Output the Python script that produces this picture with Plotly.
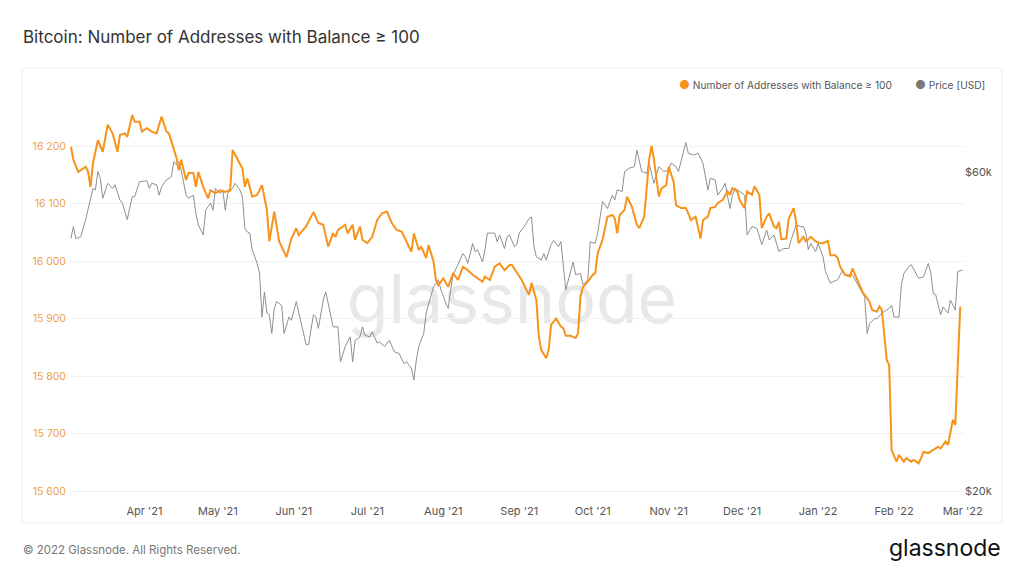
import plotly.graph_objects as go
import pandas as pd

# ---- data ----
START = pd.Timestamp("2021-03-01")

# Number of addresses with balance >= 100 BTC; day = days since START
addr_days = [
    1, 2, 4, 5, 7, 8, 9, 10, 12, 14, 16, 18, 20, 21, 23, 24, 26, 27, 29, 30,
    32, 34, 36, 38, 40, 41, 43, 44, 45, 46, 48, 49, 51, 52, 53, 55, 57, 58, 60, 62,
    64, 66, 67, 69, 71, 72, 73, 75, 77, 79, 81, 82, 84, 86, 87, 89, 91, 93, 94, 97,
    100, 102, 104, 106, 108, 109, 110, 113, 114, 116, 117, 119, 120, 122, 124, 126, 128, 130, 132, 134,
    136, 138, 140, 141, 143, 144, 146, 147, 149, 150, 151, 153, 155, 157, 158, 159, 161, 163, 165, 167,
    169, 170, 172, 174, 176, 178, 180, 181, 183, 185, 188, 189, 191, 192, 193, 195, 196, 197, 199, 201,
    202, 203, 205, 207, 208, 209, 210, 212, 214, 215, 216, 218, 220, 222, 223, 224, 225, 227, 228, 230,
    232, 233, 235, 236, 237, 238, 239, 241, 242, 244, 245, 247, 248, 250, 252, 253, 254, 256, 257, 258,
    259, 261, 262, 264, 265, 267, 269, 270, 271, 273, 274, 276, 277, 279, 280, 282, 283, 284, 285, 286,
    288, 289, 290, 291, 293, 294, 296, 297, 298, 300, 301, 303, 305, 307, 308, 310, 311, 313, 314, 315,
    317, 319, 320, 322, 323, 324, 326, 327, 328, 330, 331, 332, 334, 335, 336, 338, 339, 341, 342, 344,
    345, 347, 348, 349, 351, 353, 355, 356, 358, 359, 360, 361, 362, 364,
]
addr_values = [
    16199, 16176, 16155, 16158, 16164, 16155, 16129, 16170, 16210, 16190, 16237, 16222, 16190, 16219, 16222, 16216, 16254, 16242, 16242, 16225,
    16231, 16225, 16222, 16251, 16225, 16222, 16193, 16181, 16158, 16176, 16141, 16153, 16153, 16129, 16155, 16129, 16109, 16123, 16118, 16123,
    16120, 16123, 16193, 16176, 16161, 16129, 16144, 16112, 16115, 16132, 16089, 16034, 16086, 16034, 16025, 16007, 16039, 16057, 16045, 16060,
    16085, 16066, 16063, 16025, 16048, 16042, 16054, 16063, 16048, 16063, 16037, 16060, 16037, 16031, 16042, 16071, 16083, 16086, 16066, 16054,
    16051, 16034, 16016, 16048, 16019, 16025, 16005, 16028, 15999, 15967, 15958, 15970, 15955, 15979, 15973, 15967, 15990, 15984, 15976, 15970,
    15964, 15973, 15967, 15990, 15996, 15984, 15993, 15993, 15979, 15967, 15941, 15962, 15932, 15868, 15845, 15831, 15845, 15889, 15900, 15886,
    15883, 15870, 15870, 15866, 15874, 15938, 15955, 15964, 15976, 15979, 16013, 16037, 16077, 16080, 16074, 16048, 16080, 16089, 16112, 16094,
    16063, 16057, 16077, 16135, 16176, 16200, 16176, 16112, 16126, 16132, 16164, 16138, 16097, 16092, 16092, 16083, 16071, 16077, 16057, 16039,
    16071, 16077, 16092, 16094, 16101, 16106, 16121, 16115, 16127, 16121, 16106, 16092, 16121, 16115, 16130, 16115, 16057, 16068, 16077, 16083,
    16060, 16057, 16068, 16038, 16039, 16074, 16092, 16068, 16031, 16042, 16034, 16042, 16034, 16031, 16031, 16035, 16010, 16010, 16005, 15990,
    15976, 15973, 15987, 15967, 15958, 15947, 15935, 15929, 15915, 15912, 15921, 15915, 15828, 15819, 15671, 15651, 15663, 15651, 15657, 15651,
    15654, 15648, 15657, 15668, 15666, 15671, 15677, 15674, 15686, 15680, 15706, 15724, 15715, 15921,
]

# BTC price in USD; day = days since START
price_days = [
    1, 2, 3, 5, 7, 9, 10, 11, 12, 13, 14, 16, 18, 19, 21, 22, 24, 26, 27, 29,
    32, 33, 34, 36, 37, 38, 40, 42, 43, 44, 45, 46, 48, 49, 51, 52, 53, 55, 56, 58,
    59, 60, 62, 63, 64, 65, 67, 68, 70, 71, 72, 73, 74, 75, 77, 78, 79, 80, 81, 82,
    83, 84, 85, 87, 88, 90, 91, 93, 95, 97, 98, 100, 101, 102, 104, 105, 106, 108, 110, 111,
    113, 115, 116, 117, 119, 120, 121, 123, 124, 126, 127, 129, 131, 133, 135, 137, 138, 140, 141, 142,
    143, 145, 146, 148, 149, 151, 152, 154, 155, 156, 157, 159, 160, 161, 162, 163, 165, 166, 167, 169,
    170, 171, 174, 175, 176, 178, 179, 180, 182, 183, 184, 186, 188, 189, 190, 191, 193, 194, 195, 197,
    198, 200, 201, 202, 203, 206, 207, 209, 210, 212, 213, 215, 216, 218, 220, 222, 223, 224, 226, 227,
    229, 231, 232, 234, 236, 237, 239, 241, 243, 245, 246, 248, 249, 252, 253, 255, 257, 259, 261, 262,
    264, 265, 267, 268, 270, 271, 272, 274, 276, 277, 279, 281, 283, 285, 286, 288, 290, 292, 294, 295,
    297, 299, 300, 301, 302, 303, 305, 306, 308, 309, 311, 312, 314, 316, 317, 320, 321, 323, 325, 326,
    327, 329, 330, 332, 333, 335, 336, 337, 339, 340, 341, 343, 344, 346, 347, 349, 351, 352, 353, 354,
    356, 357, 359, 360, 362, 363, 365,
]
price_values = [
    47700, 49700, 47700, 48000, 50900, 55100, 56700, 56400, 60100, 58700, 54800, 57700, 56700, 57400, 54500, 53900, 50900, 55100, 55100, 58000,
    58200, 56700, 57700, 57400, 55400, 57000, 58400, 59000, 62200, 61500, 62200, 60400, 55400, 54800, 55400, 52000, 50000, 48300, 52600, 53900,
    52600, 56700, 55700, 56400, 52600, 55700, 56700, 57700, 56400, 55100, 49400, 48800, 48600, 45900, 43800, 42300, 36400, 39700, 36900, 36700,
    34400, 37500, 38400, 37900, 34400, 36400, 36000, 38400, 35600, 33100, 33100, 36700, 36400, 35000, 38600, 39700, 38200, 35200, 35200, 31200,
    32900, 34000, 31200, 33600, 34000, 35200, 34200, 34000, 34600, 33300, 33400, 32900, 33600, 32300, 32100, 31000, 31200, 30500, 29300, 31400,
    32900, 34400, 36900, 39300, 40400, 41400, 40000, 38200, 37500, 40000, 42100, 43600, 44600, 45300, 44800, 43800, 46900, 45600, 45900, 44000,
    45900, 48600, 48600, 47200, 48300, 46100, 48000, 48300, 46400, 46700, 48600, 49700, 51100, 51400, 46400, 44800, 44300, 45300, 44300, 46700,
    47400, 46400, 47200, 43800, 40000, 44000, 42100, 42300, 40700, 41400, 47200, 46900, 48600, 54200, 52900, 55400, 54500, 56400, 56100, 60100,
    60800, 61100, 64700, 60100, 59700, 61800, 57700, 61100, 60100, 60400, 61900, 61100, 60100, 66400, 64000, 63600, 64000, 61800, 56400, 58700,
    58400, 55400, 56700, 57700, 52900, 55400, 56700, 56100, 55400, 48300, 49700, 49400, 46700, 49100, 47500, 48300, 45600, 46100, 46100, 47500,
    50000, 49700, 49700, 48600, 45900, 46900, 45600, 46900, 44800, 42600, 40900, 41100, 41400, 42800, 42100, 42100, 41400, 40200, 39000, 34400,
    35600, 36200, 36200, 36900, 37100, 37500, 37900, 36400, 36400, 40700, 42300, 43300, 43600, 42300, 41600, 41800, 43800, 42300, 39500, 39300,
    36700, 37700, 36900, 38600, 37300, 42600, 42800,
]

month_ticks = pd.date_range("2021-04-01", "2022-03-01", freq="MS")

addr_dates = START + pd.to_timedelta(addr_days, unit="D")
price_dates = START + pd.to_timedelta(price_days, unit="D")

ORANGE = "#f7931a"
ORANGE_TXT = "#f0a048"
GREY = "#8f8f8f"
FONT = "Inter"

# plot area in pixels (for placing the surrounding decorations)
L, R, T, B = 70, 60, 100, 79
W, H = 1024, 576
PW, PH = W - L - R, H - T - B


def px(x):
    return (x - L) / PW


def py(y):
    return (H - B - y) / PH


fig = go.Figure()

fig.add_trace(go.Scatter(
    x=price_dates, y=price_values, name="Price [USD]",
    mode="lines", line=dict(color=GREY, width=1),
    yaxis="y", showlegend=False, hoverinfo="skip",
))
fig.add_trace(go.Scatter(
    x=addr_dates, y=addr_values, name="Number of Addresses with Balance ≥ 100",
    mode="lines", line=dict(color=ORANGE, width=2),
    yaxis="y2", showlegend=False, hoverinfo="skip",
))

dot = '<span style="font-size:12px;color:{}">●</span> '

fig.update_layout(
    width=W, height=H,
    margin=dict(l=L, r=R, t=T, b=B),
    paper_bgcolor="white", plot_bgcolor="rgba(0,0,0,0)",
    separators=". ",
    font=dict(family=FONT, size=11, color="#555"),
    showlegend=False,
    xaxis=dict(
        type="date",
        range=["2021-03-01 15:00", "2022-03-01 13:00"],
        tickvals=month_ticks, tickformat="%b '%y",
        showgrid=False, zeroline=False, showline=False, ticks="",
        ticklabelstandoff=6,
        tickfont=dict(size=11, color="#555"),
    ),
    yaxis=dict(
        type="log", side="right",
        range=[4.29206, 4.88574],
        tickvals=[20000, 60000], ticktext=["$20k", "$60k"],
        showgrid=False, zeroline=False, showline=False, ticks="",
        tickfont=dict(size=11, color="#555"),
    ),
    yaxis2=dict(
        overlaying="y", side="left",
        range=[15589.6, 16280],
        tick0=15600, dtick=100, tickformat=",d",
        showgrid=True, gridcolor="#f1f1f1", gridwidth=1,
        zeroline=False, showline=False, ticks="",
        ticklabelstandoff=3,
        tickfont=dict(size=10.5, color=ORANGE_TXT),
    ),
    shapes=[
        # card frame
        dict(type="rect", xref="paper", yref="paper", layer="below",
             x0=px(22), x1=px(1002), y0=py(523), y1=py(68),
             line=dict(color="#ececec", width=1), fillcolor="white"),
        # watermark
        dict(type="rect", xref="paper", yref="paper", layer="below",
             x0=px(330), x1=px(694), y0=py(330), y1=py(262),
             line=dict(width=0), fillcolor="rgba(0,0,0,0)",
             label=dict(text="glassnode", textposition="middle center",
                        font=dict(family=FONT, size=68, color="#e8e8e8"))),
    ],
    annotations=[
        dict(text="Bitcoin: Number of Addresses with Balance ≥ 100",
             xref="paper", yref="paper", x=px(21), y=py(37),
             xanchor="left", yanchor="middle", showarrow=False,
             font=dict(family=FONT, size=17, color="#333")),
        # legend
        dict(text=dot.format(ORANGE) + "Number of Addresses with Balance ≥ 100",
             xref="paper", yref="paper", x=px(677), y=py(85),
             xanchor="left", yanchor="middle", showarrow=False,
             font=dict(family=FONT, size=10.2, color="#555")),
        dict(text=dot.format("#7a7a7a") + "Price [USD]",
             xref="paper", yref="paper", x=px(987), y=py(85),
             xanchor="right", yanchor="middle", showarrow=False,
             font=dict(family=FONT, size=10.2, color="#555")),
        dict(text="© 2022 Glassnode. All Rights Reserved.",
             xref="paper", yref="paper", x=px(21), y=py(550),
             xanchor="left", yanchor="middle", showarrow=False,
             font=dict(family=FONT, size=11.5, color="#777")),
        dict(text="glassnode",
             xref="paper", yref="paper", x=px(1003), y=py(548),
             xanchor="right", yanchor="middle", showarrow=False,
             font=dict(family=FONT, size=23, color="#111")),
    ],
)

fig.write_html(
    "out.html",
    config={"displayModeBar": False},
    post_script="document.body.style.margin='0';",
)
